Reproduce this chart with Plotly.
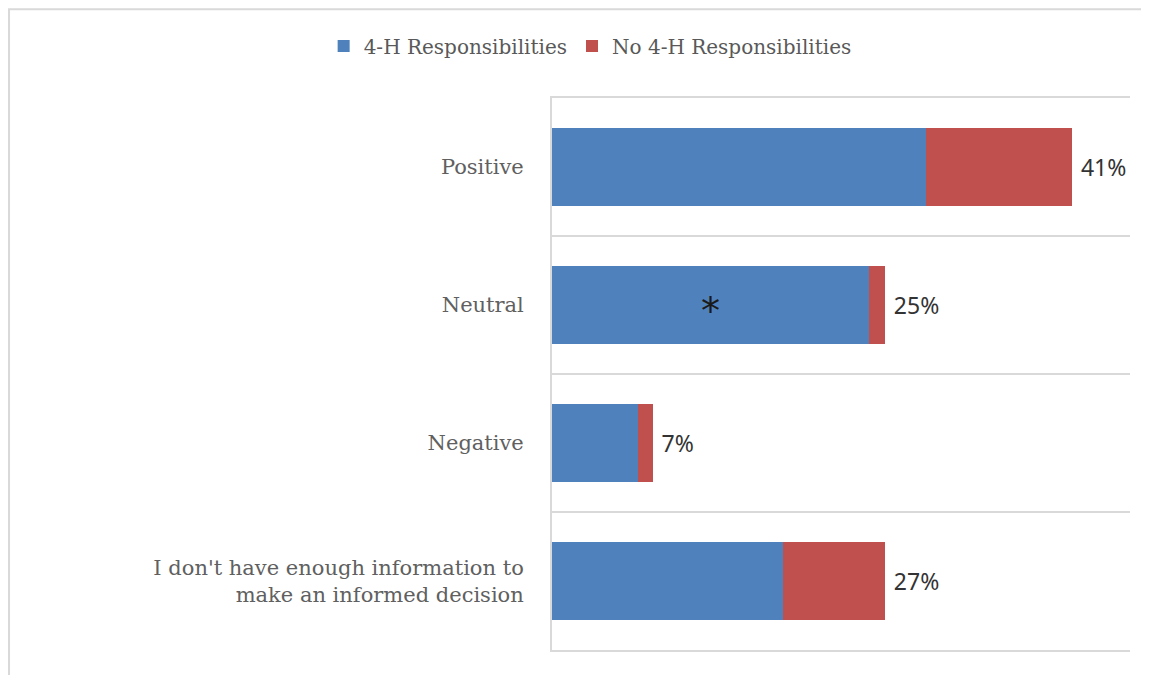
"""Opinion of respondents by 4-H responsibilities, stacked horizontal bars."""

import plotly.graph_objects as go

categories = [
    "Positive",
    "Neutral",
    "Negative",
    "I don't have enough information to<br>make an informed decision",
]
with_4h = [29.0, 24.6, 6.7, 17.9]
without_4h = [11.3, 1.2, 1.1, 7.9]
total_labels = [" 41%", " 25%", " 7%", " 27%"]

BLUE = "#4f81bd"
RED = "#c0504d"
GRID = "#d9d9d9"
LABEL_FONT = "DejaVu Serif"

fig = go.Figure()

fig.add_trace(go.Bar(
    y=categories,
    x=with_4h,
    orientation="h",
    name="4-H Responsibilities",
    marker=dict(color=BLUE, line=dict(width=0)),
))

fig.add_trace(go.Bar(
    y=categories,
    x=without_4h,
    orientation="h",
    name="No 4-H Responsibilities",
    marker=dict(color=RED, line=dict(width=0)),
    text=total_labels,
    textposition="outside",
    textfont=dict(family="Noto Sans", size=23, color="#333333"),
    cliponaxis=False,
))

# asterisk in the middle of the Neutral blue segment
fig.add_annotation(
    x=with_4h[1] / 2,
    y=categories[1],
    text="*",
    showarrow=False,
    font=dict(family="DejaVu Sans", size=38, color="#1a1a1a"),
    yshift=-6,
)

# light outer frame of the chart
fig.add_shape(
    type="rect",
    xref="paper", yref="paper",
    x0=-0.9394, x1=1.2, y0=-0.2, y1=1.161,
    line=dict(color=GRID, width=2),
    fillcolor="rgba(0,0,0,0)",
    layer="below",
)

fig.update_layout(
    width=1149,
    height=675,
    barmode="stack",
    bargap=0.435,
    plot_bgcolor="white",
    paper_bgcolor="white",
    margin=dict(l=544, r=27, t=90, b=33),
    showlegend=True,
    legend=dict(
        orientation="h",
        x=0.066,
        xanchor="center",
        y=1.094,
        yanchor="middle",
        font=dict(family=LABEL_FONT, size=20, color="#595959"),
        itemwidth=30,
        traceorder="normal",
    ),
    xaxis=dict(
        range=[0, 44.8],
        showticklabels=False,
        showgrid=False,
        zeroline=False,
        showline=True,
        mirror=True,
        linecolor=GRID,
        linewidth=2,
        fixedrange=True,
    ),
    yaxis=dict(
        categoryorder="array",
        categoryarray=categories[::-1],
        tickson="boundaries",
        showgrid=True,
        gridcolor=GRID,
        gridwidth=2,
        showline=True,
        linecolor=GRID,
        linewidth=2,
        ticks="",
        ticklabelstandoff=22,
        tickfont=dict(family=LABEL_FONT, size=21, color="#606060"),
    ),
)

fig.write_html("out.html")
